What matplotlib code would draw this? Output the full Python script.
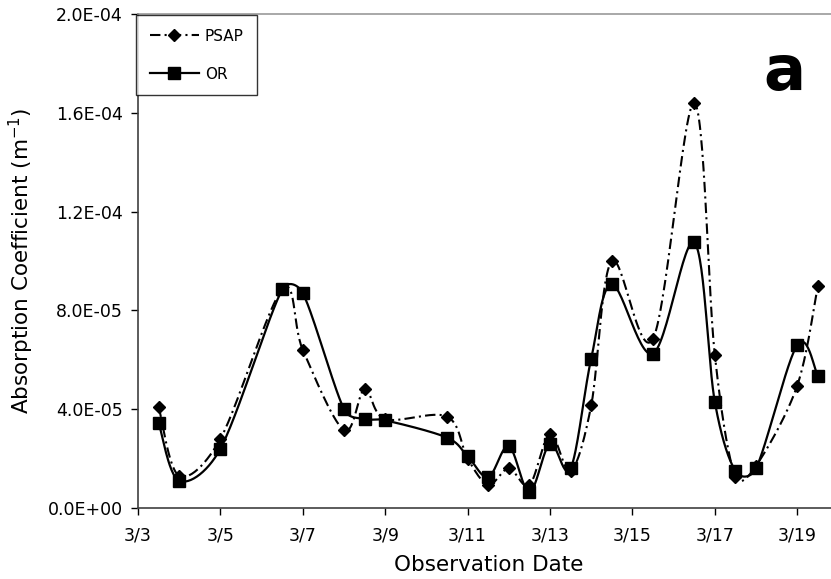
import numpy as np
import matplotlib
matplotlib.use("Agg")
import matplotlib.pyplot as plt
from matplotlib.lines import Line2D

# ---- data (days after 3/3) ----
days = [0.5, 1, 2, 3.5, 4, 5, 5.5, 6, 7.5, 8, 8.5, 9, 9.5, 10, 10.5, 11,
        11.5, 12.5, 13.5, 14, 14.5, 15, 16, 16.5]
psap = [4.1e-5, 1.3e-5, 2.8e-5, 8.85e-5, 6.4e-5, 3.15e-5, 4.8e-5, 3.6e-5,
        3.7e-5, 2.0e-5, 9.5e-6, 1.6e-5, 9.3e-6, 3.0e-5, 1.5e-5, 4.15e-5,
        1.0e-4, 6.85e-5, 1.64e-4, 6.2e-5, 1.25e-5, 1.7e-5, 4.95e-5, 9.0e-5]
orr = [3.45e-5, 1.1e-5, 2.4e-5, 8.85e-5, 8.7e-5, 4.0e-5, 3.6e-5, 3.55e-5,
       2.85e-5, 2.1e-5, 1.25e-5, 2.5e-5, 6.5e-6, 2.6e-5, 1.6e-5, 6.05e-5,
       9.05e-5, 6.25e-5, 1.075e-4, 4.3e-5, 1.5e-5, 1.6e-5, 6.6e-5, 5.35e-5]
xtick_pos = [0, 2, 4, 6, 8, 10, 12, 14, 16]
xtick_labels = ["3/3", "3/5", "3/7", "3/9", "3/11", "3/13", "3/15", "3/17", "3/19"]
ytick_pos = [0, 4e-5, 8e-5, 1.2e-4, 1.6e-4, 2.0e-4]
ytick_labels = ["0.0E+00", "4.0E-05", "8.0E-05", "1.2E-04", "1.6E-04", "2.0E-04"]


def smooth(x, y, n=30):
    """Excel-style smoothed line (Bezier with limited control arms)."""
    x = np.asarray(x, float)
    y = np.asarray(y, float)
    sx, sy = 41.2, 494 / 2e-4
    P = np.column_stack([x * sx, y * sy])
    P = np.vstack([P[0], P, P[-1]])
    out = []
    t = np.linspace(0, 1, n)[:, None]
    for i in range(1, len(P) - 2):
        p0, p1, p2, p3 = P[i - 1], P[i], P[i + 1], P[i + 2]
        d12 = np.hypot(*(p2 - p1))
        d02 = np.hypot(*(p2 - p0))
        d13 = np.hypot(*(p3 - p1))
        f0 = 1 / 6 if d02 == 0 else min(1 / 6, d12 / (2 * d02))
        f1 = 1 / 6 if d13 == 0 else min(1 / 6, d12 / (2 * d13))
        c1 = p1 + (p2 - p0) * f0
        c2 = p2 - (p3 - p1) * f1
        seg = ((1 - t) ** 3) * p1 + 3 * ((1 - t) ** 2) * t * c1 + 3 * (1 - t) * t ** 2 * c2 + t ** 3 * p2
        out.append(seg if i == 1 else seg[1:])
    out = np.vstack(out)
    return out[:, 0] / sx, out[:, 1] / sy


W, H = 831, 579
fig = plt.figure(figsize=(W / 100, H / 100), dpi=100)
left, right_px, top, bottom = 138, 138 + 17 * 41.2, 14, 508
ax = fig.add_axes([left / W, (H - bottom) / H, (right_px - left) / W, (bottom - top) / H])

dash = (5, 2, 1, 2)
xs, ys = smooth(days, psap)
ax.plot(xs, ys, color="black", lw=1.5, dashes=dash)
ax.plot(days, psap, linestyle="none", marker="D", ms=6.5, color="black")

xs, ys = smooth(days, orr)
ax.plot(xs, ys, color="black", lw=1.6, solid_capstyle="butt")
ax.plot(days, orr, linestyle="none", marker="s", ms=8.5, color="black")

ax.set_xlim(0, 17)
ax.set_ylim(0, 2e-4)
ax.set_xticks(xtick_pos)
ax.set_xticklabels(xtick_labels, fontsize=12.5)
ax.set_yticks(ytick_pos)
ax.set_yticklabels(ytick_labels, fontsize=12.5)
ax.tick_params(axis="both", direction="out", length=5, width=1, colors="black", pad=6)
ax.tick_params(axis="x", pad=8)

for s in ["left", "bottom"]:
    ax.spines[s].set_color("#404040")
    ax.spines[s].set_linewidth(1.2)
ax.spines["top"].set_color("#999999")
ax.spines["top"].set_linewidth(1.2)
ax.spines["right"].set_visible(False)

ax.set_xlabel("Observation Date", fontsize=15.5, labelpad=8)
ax.set_ylabel("Absorption Coefficient (m$^{-1}$)", fontsize=15.5, labelpad=8)

handles = [
    Line2D([], [], color="black", lw=1.5, dashes=dash, marker="D", ms=6.5),
    Line2D([], [], color="black", lw=1.6, marker="s", ms=8.5),
]
leg = fig.legend(handles, ["PSAP", "OR"], loc="upper left",
                 bbox_to_anchor=(136 / W, 1 - 15 / H), bbox_transform=fig.transFigure,
                 fontsize=11, frameon=True, fancybox=False, borderpad=0.9,
                 labelspacing=1.5, handlelength=3.2, handletextpad=0.4,
                 borderaxespad=0, numpoints=1)
leg.get_frame().set_edgecolor("black")
leg.get_frame().set_linewidth(1.0)

fig.text(784.5 / W, 1 - 90 / H, "a", fontsize=45, fontweight="bold",
         ha="center", va="baseline")

fig.savefig("out.png", dpi=100)
